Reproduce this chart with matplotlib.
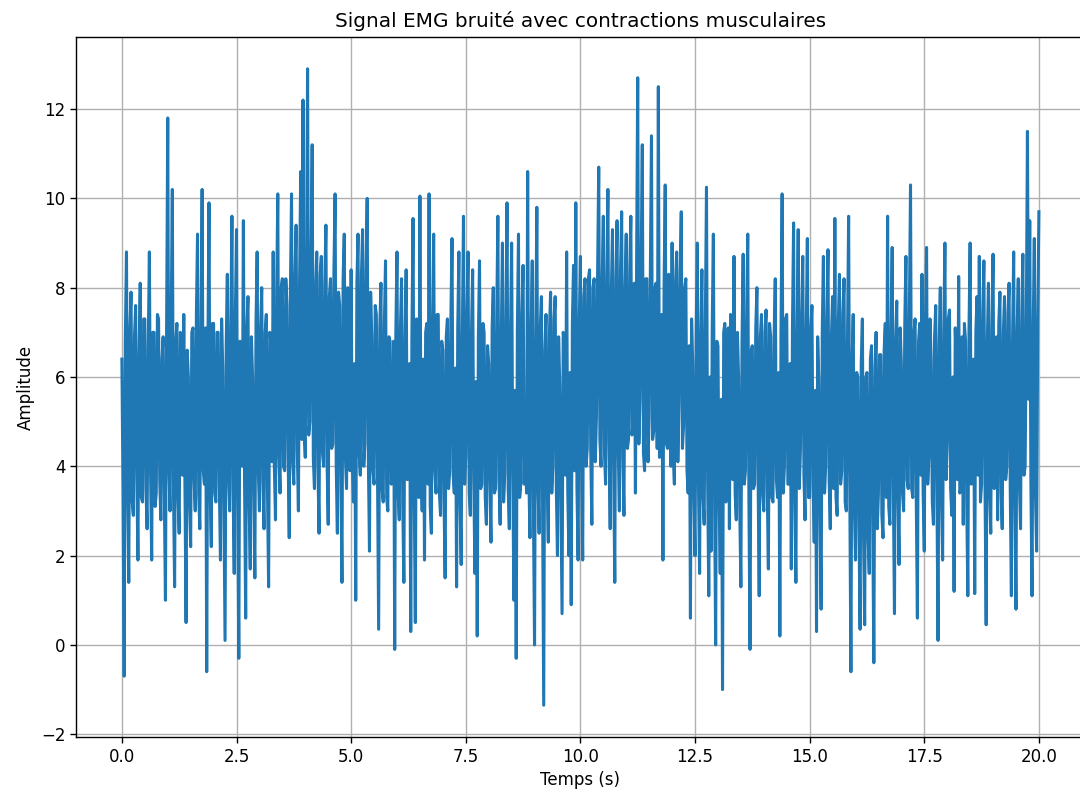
import numpy as np
import matplotlib
matplotlib.use("Agg")
import matplotlib.pyplot as plt

# signal EMG, 40 échantillons par seconde :
# pics (s..) et valeurs du coeur de la bande (c..) qui s'intercalent
fs = 40
s00 = [6.4, -0.7, 8.8, 1.4, 7.9, 2.9, 7.6, 1.9, 8.1, 3.2, 7.3, 2.6, 8.8, 1.9, 7.0, 3.4, 7.3, 2.8, 6.9, 1.0]
s01 = [11.8, 3.0, 10.2, 1.3, 7.2, 2.5, 6.8, 7.4, 0.5, 6.0, 2.2, 7.1, 3.0, 9.2, 2.6, 10.2, 3.6, -0.6, 9.9, 2.2]
s02 = [7.2, 3.2, 7.0, 1.9, 6.2, 0.1, 8.3, 3.0, 9.6, 1.6, 9.3, -0.3, 6.5, 9.5, 0.6, 7.8, 1.7, 6.0, 1.5, 8.8]
s03 = [3.0, 8.0, 2.6, 7.4, 1.3, 6.8, 8.8, 2.8, 10.1, 3.4, 8.2, 3.9, 7.6, 2.4, 10.1, 3.6, 9.4, 3.0, 10.6, 12.2]
s04 = [4.2, 12.9, 5.0, 11.2, 3.5, 8.8, 2.5, 8.7, 4.0, 9.4, 2.7, 8.2, 4.5, 10.1, 2.5, 7.6, 1.4, 9.2, 3.5, 7.8]
s05 = [8.4, 3.2, 1.0, 9.2, 3.8, 9.3, 4.5, 10.0, 2.1, 6.9, 3.6, 7.4, 0.35, 8.1, 3.2, 8.6, 3.0, 6.8, 4.0, -0.1]
s06 = [8.8, 2.8, 8.2, 1.4, 8.4, 3.9, 0.3, 9.55, 0.5, 6.2, 10.05, 3.0, 1.9, 7.2, 10.1, 2.5, 9.2, 3.4, 7.4, 2.9]
s07 = [6.6, 1.5, 7.3, 3.9, 9.1, 3.4, 1.3, 8.8, 1.8, 9.6, 4.2, 8.8, 2.9, 8.4, 1.6, 0.2, 8.6, 3.6, 7.0, 2.7]
s08 = [6.3, 2.3, 8.0, 3.5, 9.6, 2.7, 9.0, 3.8, 9.9, 2.6, 9.0, 1.0, -0.3, 9.2, 3.6, 8.5, 5.1, 10.6, 2.4, 8.6]
s09 = [0.0, 9.8, 2.5, 7.8, -1.35, 7.4, 2.3, 7.9, 4.0, 7.8, 2.0, 5.8, 0.7, 6.8, 8.8, 2.0, 0.9, 8.5, 9.9, 1.9]
s10 = [8.7, 1.9, 8.2, 4.4, 8.4, 2.7, 8.2, 5.1, 10.7, 4.0, 9.6, 3.6, 10.2, 2.6, 9.3, 1.4, 9.5, 3.0, 9.7, 2.9]
s11 = [9.2, 4.6, 9.6, 5.0, 3.4, 12.7, 5.5, 11.2, 3.9, 8.2, 5.1, 11.4, 4.8, 8.1, 12.5, 4.3, 1.9, 10.3, 4.4, 7.5]
s12 = [9.0, 3.6, 8.8, 5.4, 9.7, 4.9, 8.2, 3.4, 0.6, 6.3, 2.0, 9.0, 1.6, 8.4, 2.7, 10.25, 1.1, 2.1, 9.2, 0.0]
s13 = [6.7, 1.6, -1.0, 7.2, 4.0, 2.6, 6.5, 8.7, 2.8, 6.0, 1.3, 8.75, 3.9, 9.2, -0.1, 6.7, 3.6, 8.0, 1.1, 7.4]
s14 = [3.0, 7.5, 1.7, 6.9, 3.2, 8.2, 3.3, 0.2, 10.1, 4.0, 7.4, 3.6, 1.7, 9.45, 1.4, 9.3, 4.4, 8.7, 2.8, 9.1]
s15 = [3.3, 7.6, 2.3, 0.3, 5.9, 0.8, 8.7, 4.0, 8.85, 2.6, 7.8, 9.55, 2.9, 8.3, 3.9, 8.2, 3.0, 9.6, -0.6, 7.4]
s16 = [1.9, 6.0, 0.35, 7.3, 0.45, 6.1, 1.6, 6.7, -0.4, 7.0, 3.4, 6.5, 2.4, 7.2, 9.6, 2.7, 8.9, 0.7, 7.7, 1.8]
s17 = [6.3, 3.0, 8.7, 3.5, 10.3, 3.3, 7.3, 0.6, 7.2, 8.3, 2.1, 8.9, 4.2, 6.4, 2.7, 7.6, 0.1, 8.0, 1.9, 9.0]
s18 = [4.5, 7.5, 2.9, 1.2, 6.2, 8.25, 3.5, 2.7, 6.8, 1.1, 9.0, 4.2, 1.15, 7.8, 8.7, 3.6, 8.6, 0.45, 8.1, 2.5]
s19 = [8.75, 4.3, 2.8, 7.9, 2.6, 7.8, 4.0, 8.1, 1.1, 8.8, 0.8, 8.2, 2.6, 8.75, 4.0, 11.5, 9.5, 1.1, 9.1, 2.1, 9.7]

c00 = [3.4, 6.8, 3.6, 7.1, 3.2, 6.9, 3.8, 6.5, 3.3, 7.3, 3.5, 6.7, 3.9, 7.0, 3.1, 7.4, 3.7, 6.4, 3.4, 7.0]
c01 = [4.0, 7.2, 3.5, 6.8, 3.3, 7.0, 3.8, 3.6, 6.6, 3.2, 7.0, 3.7, 7.4, 3.4, 6.9, 3.9, 7.1, 6.5, 3.5, 7.2]
c02 = [3.4, 7.0, 3.6, 7.3, 3.1, 6.7, 3.8, 7.1, 3.5, 7.4, 3.3, 6.8, 4.0, 3.7, 7.1, 3.2, 6.9, 3.5, 7.2, 3.9]
c03 = [7.1, 3.7, 7.0, 3.5, 7.0, 4.1, 4.0, 7.8, 4.2, 8.0, 4.0, 8.2, 4.3, 7.9, 4.1, 8.3, 4.4, 8.1, 4.6, 4.8]
c04 = [8.2, 4.7, 8.4, 4.2, 8.0, 4.0, 8.3, 4.3, 8.1, 4.1, 7.8, 4.4, 8.4, 4.0, 7.9, 3.8, 8.2, 4.2, 8.0, 3.9]
c05 = [4.1, 6.3, 8.1, 4.3, 8.3, 4.0, 8.4, 4.2, 7.9, 3.9, 7.6, 3.7, 7.1, 3.5, 7.2, 3.3, 6.9, 3.6, 6.8, 7.0]
c06 = [3.4, 7.1, 3.2, 6.9, 3.7, 6.3, 6.9, 3.5, 7.3, 3.3, 3.8, 6.4, 7.0, 3.6, 3.1, 7.2, 3.9, 7.4, 3.4, 6.8]
c07 = [3.3, 6.9, 3.5, 7.3, 3.8, 6.2, 7.1, 3.2, 6.8, 3.6, 7.4, 3.4, 7.0, 3.7, 5.9, 6.9, 3.5, 7.2, 3.3, 6.7]
c08 = [3.6, 7.1, 3.4, 7.3, 3.7, 6.9, 3.2, 7.2, 3.5, 6.9, 3.9, 5.7, 7.0, 3.3, 7.4, 3.6, 3.4, 3.8, 6.9, 3.1]
c09 = [6.8, 3.6, 7.1, 3.3, 6.6, 3.7, 7.0, 3.4, 7.3, 3.5, 6.9, 3.2, 7.0, 3.8, 3.4, 6.1, 7.2, 3.9, 3.5, 7.2]
c10 = [4.2, 7.8, 4.0, 8.2, 4.4, 8.0, 4.1, 8.3, 4.6, 8.1, 4.3, 8.2, 4.5, 7.9, 4.0, 8.2, 4.4, 8.4, 4.2, 8.0]
c11 = [4.4, 8.3, 4.7, 8.1, 8.4, 4.5, 8.5, 4.3, 8.2, 4.1, 8.4, 4.6, 8.0, 4.4, 4.2, 7.4, 8.0, 4.5, 8.3, 4.0]
c12 = [4.3, 8.1, 4.1, 8.3, 4.4, 8.0, 3.9, 6.7, 7.3, 3.4, 7.0, 3.6, 6.9, 3.3, 7.2, 3.7, 6.0, 7.1, 3.5, 6.8]
c13 = [3.3, 5.5, 7.0, 3.2, 7.1, 7.4, 3.7, 3.4, 7.0, 3.1, 6.8, 3.6, 7.3, 3.3, 6.6, 3.5, 7.1, 3.8, 6.9, 3.4]
c14 = [7.0, 3.5, 7.2, 3.3, 6.9, 3.7, 6.1, 7.0, 3.4, 7.3, 3.6, 6.3, 7.1, 3.2, 6.8, 3.5, 7.4, 3.8, 7.0, 3.3]
c15 = [7.1, 3.6, 5.7, 6.9, 3.1, 7.0, 3.4, 7.3, 3.7, 6.9, 3.5, 3.3, 7.2, 3.6, 7.4, 3.2, 6.8, 3.5, 6.3, 3.1]
c16 = [6.1, 2.7, 6.3, 2.5, 6.0, 2.4, 6.4, 2.8, 6.2, 2.6, 6.5, 2.9, 6.6, 3.3, 3.1, 6.9, 3.5, 6.8, 3.4, 7.1]
c17 = [3.4, 7.2, 3.7, 7.4, 3.5, 7.0, 3.3, 6.8, 3.8, 3.4, 7.1, 3.6, 7.3, 3.2, 6.9, 3.5, 6.7, 3.3, 7.0, 3.7]
c18 = [7.3, 3.5, 6.0, 7.1, 3.7, 3.4, 6.9, 7.2, 3.3, 7.0, 3.6, 6.4, 7.0, 3.8, 3.2, 7.4, 3.5, 6.8, 3.4, 7.1]
c19 = [3.5, 6.9, 7.2, 3.4, 7.0, 3.7, 7.4, 3.5, 6.8, 3.3, 7.0, 3.6, 7.3, 3.8, 7.1, 5.5, 3.7, 7.0, 3.4, 7.3]

peaks = [s00, s01, s02, s03, s04, s05, s06, s07, s08, s09,
         s10, s11, s12, s13, s14, s15, s16, s17, s18, s19]
cores = [c00, c01, c02, c03, c04, c05, c06, c07, c08, c09,
         c10, c11, c12, c13, c14, c15, c16, c17, c18, c19]

signal = []
for p, c in zip(peaks, cores):
    for a, b in zip(p, c):
        signal += [a, b]
signal.append(s19[-1])
signal = np.array(signal)
t = np.arange(len(signal)) / fs

plt.rcParams['font.size'] = 12

fig = plt.figure(figsize=(10.8, 7.93), dpi=100)
ax = fig.add_axes([0.0704, 0.0706, 0.934, 0.8827])

ax.plot(t, signal, color='#1f77b4', linewidth=2.2)
ax.set_title("Signal EMG bruité avec contractions musculaires", pad=7)
ax.set_xlabel("Temps (s)")
ax.set_ylabel("Amplitude")
ax.grid(True, linewidth=1.0)
ax.tick_params(length=4.2, width=1.0)
for sp in ax.spines.values():
    sp.set_linewidth(1.0)

fig.savefig("out.png", dpi=100)
